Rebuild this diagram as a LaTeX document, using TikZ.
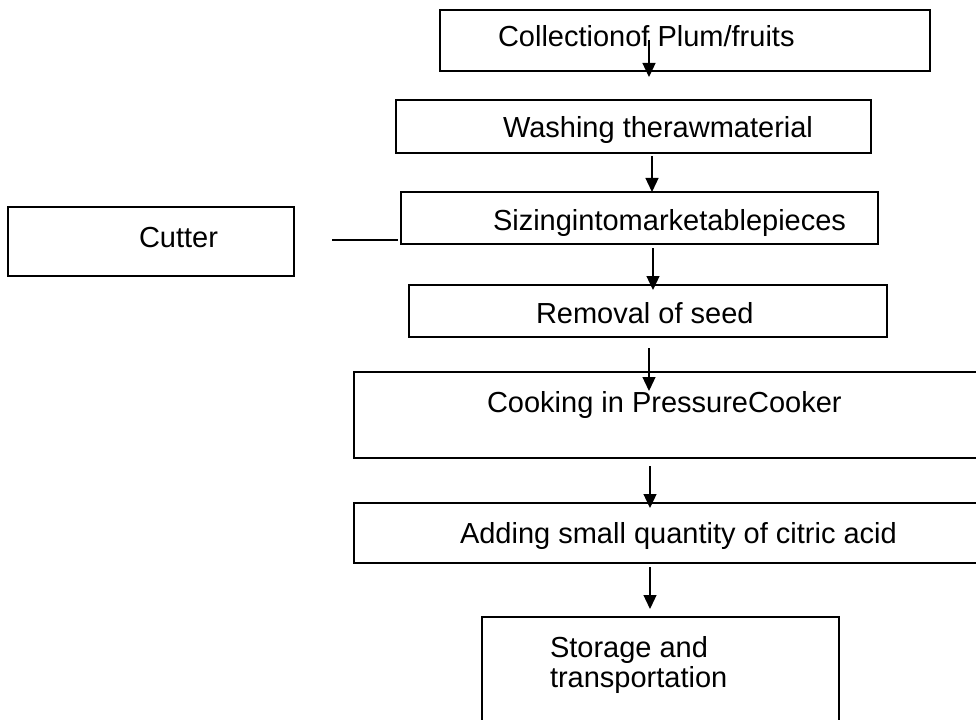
\documentclass[tikz,border=0pt]{standalone}
\usepackage{fontspec}
\setmainfont{Liberation Sans}
\usetikzlibrary{arrows.meta}
\tikzset{
  boxline/.style={draw=black, line width=1.4bp},
  flowtext/.style={anchor=base west, inner sep=0pt, outer sep=0pt, font=\fontsize{29bp}{33bp}\selectfont},
  flowarrow/.style={draw=black, line width=1.3bp, -{Triangle[length=14bp,width=13bp]}},
  plainline/.style={draw=black, line width=1.3bp}
}
\begin{document}
\begin{tikzpicture}[x=1bp,y=-1bp]
\useasboundingbox (0,0) rectangle (976,720);
% boxes
\path[boxline] (440,10) rectangle (930,71);
\node[inner sep=0pt] (b1) at (685,40.5) {};
\path[boxline] (396,100) rectangle (871,153);
\node[inner sep=0pt] (b2) at (633.5,126.5) {};
\path[boxline] (401,192) rectangle (878,244);
\node[inner sep=0pt] (b3) at (639.5,218) {};
\path[boxline] (8,207) rectangle (294,276);
\node[inner sep=0pt] (cut) at (151,241.5) {};
\path[boxline] (409,285) rectangle (887,337);
\node[inner sep=0pt] (b4) at (648,311) {};
\path[boxline] (354,372) rectangle (995,458);
\node[inner sep=0pt] (b5) at (665,415) {};
\path[boxline] (354,503) rectangle (995,563);
\node[inner sep=0pt] (b6) at (665,533) {};
\path[boxline] (482,617) rectangle (839,745);
\node[inner sep=0pt] (b7) at (660,680) {};
% texts
\node[flowtext] (t1) at (498,47) {Collectionof Plum/fruits};
\node[flowtext] (t2) at (503,138) {Washing therawmaterial};
\node[flowtext] (t3) at (493,230) {Sizingintomarketablepieces};
\node[flowtext] (tc) at (139,247) {Cutter};
\node[flowtext] (t4) at (536,323) {Removal of seed};
\node[flowtext] (t5) at (487,412) {Cooking in PressureCooker};
\node[flowtext] (t6) at (460,543) {Adding small quantity of citric acid};
\node[flowtext] (t7a) at (550,657) {Storage and};
\node[flowtext] (t7b) at (550,687) {transportation};
% arrow end points
\coordinate (a1s) at (649,40);  \coordinate (a1e) at (649,77);
\coordinate (a2s) at (652,156); \coordinate (a2e) at (652,192);
\coordinate (a3s) at (653,248); \coordinate (a3e) at (653,290);
\coordinate (a4s) at (649,348); \coordinate (a4e) at (649,391);
\coordinate (a5s) at (650,466); \coordinate (a5e) at (650,508);
\coordinate (a6s) at (650,567); \coordinate (a6e) at (650,609);
\coordinate (cls) at (332,240); \coordinate (cle) at (398,240);
\draw[flowarrow] (a1s) -- (a1e);
\draw[flowarrow] (a2s) -- (a2e);
\draw[flowarrow] (a3s) -- (a3e);
\draw[flowarrow] (a4s) -- (a4e);
\draw[flowarrow] (a5s) -- (a5e);
\draw[flowarrow] (a6s) -- (a6e);
\draw[plainline] (cls) -- (cle);
\end{tikzpicture}
\end{document}
